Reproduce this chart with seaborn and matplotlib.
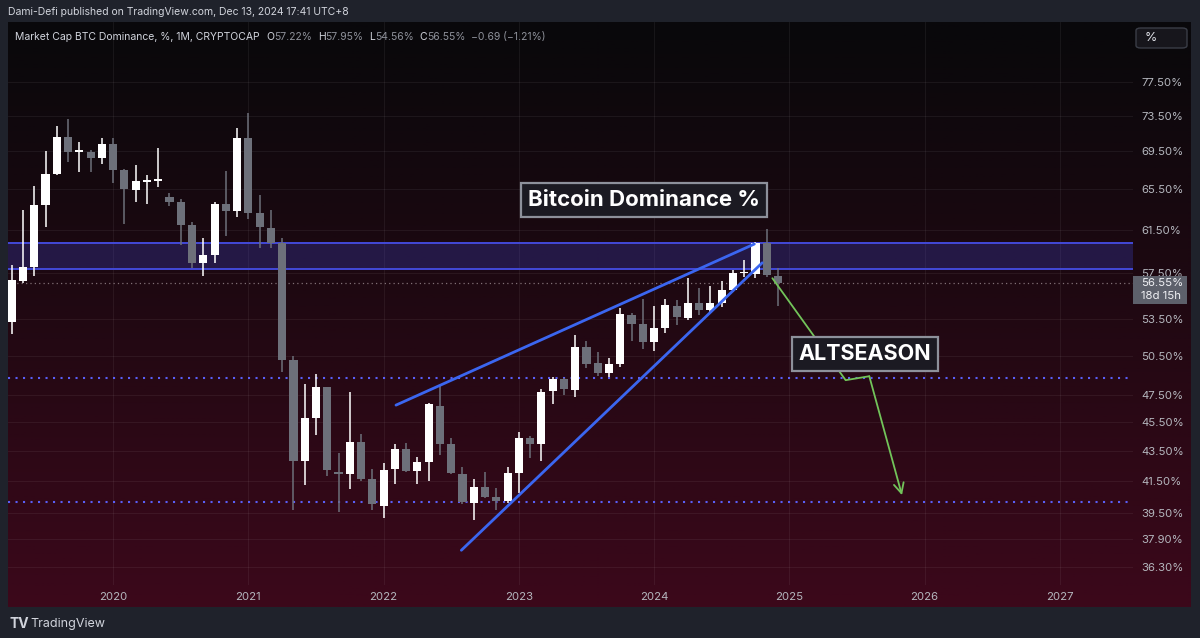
import numpy as np
import pandas as pd
import matplotlib.pyplot as plt
import matplotlib.patches as mpatches
import matplotlib.ticker as mticker
import seaborn as sns

# Monthly BTC dominance candles, Apr 2019 - Dec 2024
months = pd.date_range("2019-04-01", "2024-12-01", freq="MS")
open_ = [53.22, 56.75, 58.03, 63.88, 67.11, 71.12, 69.45, 69.40, 68.82,
         70.30, 67.47, 65.42, 66.30, 66.40, 64.68, 64.24, 61.94, 58.33, 59.10, 63.98, 63.31,
         70.94, 63.08, 61.68, 60.18, 50.15, 42.82, 45.78, 48.05, 42.10, 41.94, 44.13, 41.62,
         39.92, 42.31, 43.62, 42.18, 42.78, 46.69, 43.96, 41.96, 40.12, 41.14, 40.50, 40.23,
         42.05, 44.41, 43.96, 47.77, 48.69, 47.85, 51.20, 49.90, 49.14, 49.82, 53.80, 53.03,
         51.61, 52.72, 54.60, 53.58, 54.86, 54.23, 54.80, 55.96, 57.45, 57.37, 60.25, 57.22]
high = [58.19, 63.41, 65.83, 69.57, 72.31, 73.08, 70.49, 69.65, 71.00,
        71.00, 67.60, 68.03, 66.97, 69.84, 65.08, 64.48, 62.20, 60.66, 64.21, 67.42, 72.12,
        73.79, 64.91, 63.41, 60.72, 50.47, 48.28, 49.06, 48.10, 43.39, 47.72, 44.65, 42.28,
        42.67, 43.96, 44.07, 43.08, 46.91, 48.17, 44.37, 42.45, 41.62, 42.08, 41.03, 42.41,
        44.83, 44.53, 47.90, 48.87, 48.79, 52.16, 51.69, 50.76, 50.30, 54.38, 54.00, 55.18,
        54.57, 55.15, 55.09, 56.99, 56.11, 56.31, 56.75, 57.73, 58.64, 60.30, 61.60, 57.95]
low = [52.24, 56.60, 57.20, 61.72, 67.00, 68.37, 67.26, 67.32, 68.16,
       66.10, 62.04, 64.18, 64.04, 65.76, 63.80, 60.03, 57.88, 57.20, 58.39, 60.86, 62.69,
       62.50, 59.72, 59.72, 49.24, 39.67, 41.24, 44.60, 41.83, 39.56, 40.97, 41.50, 39.67,
       39.19, 41.31, 42.07, 41.29, 41.52, 43.23, 41.94, 40.02, 39.05, 40.39, 39.67, 40.08,
       40.71, 43.01, 42.84, 46.79, 47.48, 47.31, 49.50, 48.90, 48.87, 49.60, 51.69, 51.00,
       50.86, 52.30, 52.97, 53.40, 53.81, 54.10, 54.46, 55.80, 57.13, 57.06, 57.13, 54.56]
close = [56.84, 58.03, 63.88, 67.11, 71.05, 69.40, 69.50, 68.82, 70.30,
         67.50, 65.49, 66.35, 66.40, 66.50, 64.24, 61.94, 58.33, 59.10, 63.98, 63.31, 71.00,
         63.08, 61.72, 60.24, 50.15, 42.82, 45.78, 48.05, 42.23, 42.00, 44.13, 41.62, 40.02,
         42.23, 43.62, 42.18, 42.74, 46.79, 43.96, 42.01, 40.14, 41.10, 40.50, 40.25, 42.05,
         44.37, 43.98, 47.72, 48.69, 47.90, 51.20, 49.84, 49.17, 49.84, 53.87, 53.03, 51.56,
         52.75, 54.66, 53.61, 54.86, 54.23, 54.80, 55.96, 57.44, 57.50, 60.25, 57.28, 56.55]

price_ticks = [77.5, 73.5, 69.5, 65.5, 61.5, 57.5, 53.5, 50.5, 47.5, 45.5, 43.5, 41.5, 39.5, 37.9, 36.3]
year_labels = ["2020", "2021", "2022", "2023", "2024", "2025", "2026", "2027"]

# drawings (x = months since Jan 2020)
zone = [57.8, 60.25]
dotted_levels = [48.8, 40.2]
last_close = 56.55
upper_x, upper_y = [25.1, 56.9], [46.74, 60.13]
lower_x, lower_y = [30.9, 57.6], [37.25, 58.39]
arrow_x, arrow_y = [58.5, 65.0, 67.1, 70.0], [57.0, 48.6, 48.9, 40.6]

df = pd.DataFrame({"date": months, "open": open_, "high": high, "low": low, "close": close})
df["x"] = (df["date"].dt.year - 2020) * 12 + df["date"].dt.month - 1
df["up"] = df["close"] >= df["open"]

sns.set_theme(style="dark")
plt.rcParams["font.family"] = ["Inter", "DejaVu Sans"]

W, H = 1200, 638
fig = plt.figure(figsize=(12, 6.38), dpi=100, facecolor="#1f222b")
fx = lambda px: px / W
fy = lambda py: 1 - py / H

# gradient pane background
bg = fig.add_axes([fx(8), fy(607), (1191 - 8) / W, (607 - 22) / H])
t = np.linspace(0, 1, 256)[:, None]
top_c = np.array([9, 8, 11]) / 255
bot_c = np.array([60, 8, 27]) / 255
grad = (top_c + (bot_c - top_c) * t ** 1.1)[:, None, :].repeat(2, axis=1)
bg.imshow(grad, aspect="auto", extent=[0, 1, 0, 1], origin="upper")
bg.set_axis_off()

ax = fig.add_axes([fx(8), fy(585), (1133 - 8) / W, (585 - 22) / H])
ax.set_facecolor("none")
ax.set_yscale("log")
ax.set_ylim(35.28, 85.09)
ax.set_xlim(-9.33, 90.5)
for s in ax.spines.values():
    s.set_visible(False)

ax.yaxis.set_major_locator(mticker.FixedLocator(price_ticks))
ax.yaxis.set_major_formatter(mticker.FixedFormatter([f"{v:.2f}%" for v in price_ticks]))
ax.yaxis.set_minor_locator(mticker.NullLocator())
ax.yaxis.tick_right()
ax.set_xticks(range(0, 96, 12))
ax.set_xticklabels(year_labels)
ax.tick_params(axis="y", length=0, pad=6, labelsize=8.2, labelcolor="#b4b6bd")
ax.tick_params(axis="x", length=0, pad=5, labelsize=8.2, labelcolor="#b4b6bd")
ax.grid(True, color="#ffffff", alpha=0.06, lw=0.8)

# resistance zone and levels
ax.axhspan(zone[0], zone[1], color="#3f45d6", alpha=0.27, lw=0, zorder=1)
for z in zone:
    ax.axhline(z, color="#4349d8", lw=1.4, zorder=1.5)
for lvl in dotted_levels:
    ax.axhline(lvl, color="#5a5ef5", lw=1.5, ls=(0, (1, 2.6)), zorder=1.5)
ax.axhline(last_close, color="#9a8a90", lw=0.9, ls=(0, (1, 2.5)), zorder=1.5, alpha=0.8)

# candles
up_col, dn_col = "#ffffff", "#6d707a"
cols = np.where(df["up"], up_col, dn_col)
ax.vlines(df["x"], df["low"], df["high"], colors=cols, lw=1.1, zorder=3)
body_lo = df[["open", "close"]].min(axis=1)
body_hi = df[["open", "close"]].max(axis=1)
body_h = np.maximum(body_hi - body_lo, body_lo * 0.0025)
ax.bar(df["x"], body_h, bottom=body_lo, width=0.72, color=cols, lw=0, zorder=4)

# wedge trendlines
wedge = pd.DataFrame({"x": upper_x + lower_x, "y": upper_y + lower_y,
                      "line": ["upper"] * 2 + ["lower"] * 2})
sns.lineplot(data=wedge, x="x", y="y", units="line", estimator=None, sort=False,
             color="#3b66f0", lw=2, ax=ax, zorder=5)

# green projected path
path = pd.DataFrame({"x": arrow_x[:-1], "y": arrow_y[:-1]})
sns.lineplot(data=path, x="x", y="y", sort=False, color="#72c45a", lw=1.3, ax=ax, zorder=5)
ax.annotate("", xy=(arrow_x[-1], arrow_y[-1]), xytext=(arrow_x[-2], arrow_y[-2]),
            arrowprops=dict(arrowstyle="->", color="#72c45a", lw=1.3, mutation_scale=18,
                            shrinkA=0, shrinkB=0), zorder=5)
ax.set_xlabel("")
ax.set_ylabel("")

# labels
box = dict(boxstyle="square,pad=0.32", fc="#1b1a22", ec="#8d919b", lw=1.6)
ax.text(47.1, 64.4, "Bitcoin Dominance %", color="white", fontsize=16, fontweight="bold",
        ha="center", va="center", bbox=box, zorder=6)
ax.text(66.7, 50.6, "ALTSEASON", color="white", fontsize=15.5, fontweight="bold",
        ha="center", va="center", bbox=box, zorder=6)

# header texts
fig.text(fx(8), fy(12), "Dami-Defi published on TradingView.com, Dec 13, 2024 17:41 UTC+8",
         color="#d1d4dc", fontsize=7.5, va="center")
light, grey = "#d1d4dc", "#8e919a"
segs = [("Market Cap BTC Dominance, %, 1M, CRYPTOCAP", light, 0),
        ("O", light, 5), ("57.22%", grey, 0), ("H", light, 4), ("57.95%", grey, 0),
        ("L", light, 4), ("54.56%", grey, 0), ("C", light, 4), ("56.55%", grey, 0),
        ("\u22120.69 (\u22121.21%)", grey, 4)]
prev = fig.text(fx(15), fy(37), segs[0][0], color=segs[0][1], fontsize=7.5, va="center")
for s, c, gap in segs[1:]:
    prev = ax.annotate(s, xy=(1, 0.5), xycoords=prev, xytext=(gap, 0), textcoords="offset points",
                       color=c, fontsize=7.5, va="center", ha="left", annotation_clip=False)

# % button
fig.patches.append(mpatches.FancyBboxPatch((fx(1136), fy(48)), fx(51), 20 / H,
                                           boxstyle="round,pad=0,rounding_size=0.004",
                                           transform=fig.transFigure, fc="#17161c", ec="#3a3d47", lw=1))
fig.text(fx(1145), fy(38), "%", color="#e0e2e8", fontsize=9, va="center")

# last price tag
fig.patches.append(mpatches.Rectangle((fx(1133), fy(304)), fx(54), 28 / H,
                                      transform=fig.transFigure, fc="#5d606b", ec="none"))
fig.text(fx(1141), fy(283.5), "56.55%", color="#f0f0f4", fontsize=8.2, va="center")
fig.text(fx(1141), fy(296.5), "18d 15h", color="#f0f0f4", fontsize=8.2, va="center")

# footer
fig.text(fx(10), fy(624), "TV", color="#d1d4dc", fontsize=10, fontweight="bold", va="center")
fig.text(fx(30), fy(624), "TradingView", color="#d1d4dc", fontsize=9, va="center")

fig.savefig("out.png", dpi=100, facecolor=fig.get_facecolor())
